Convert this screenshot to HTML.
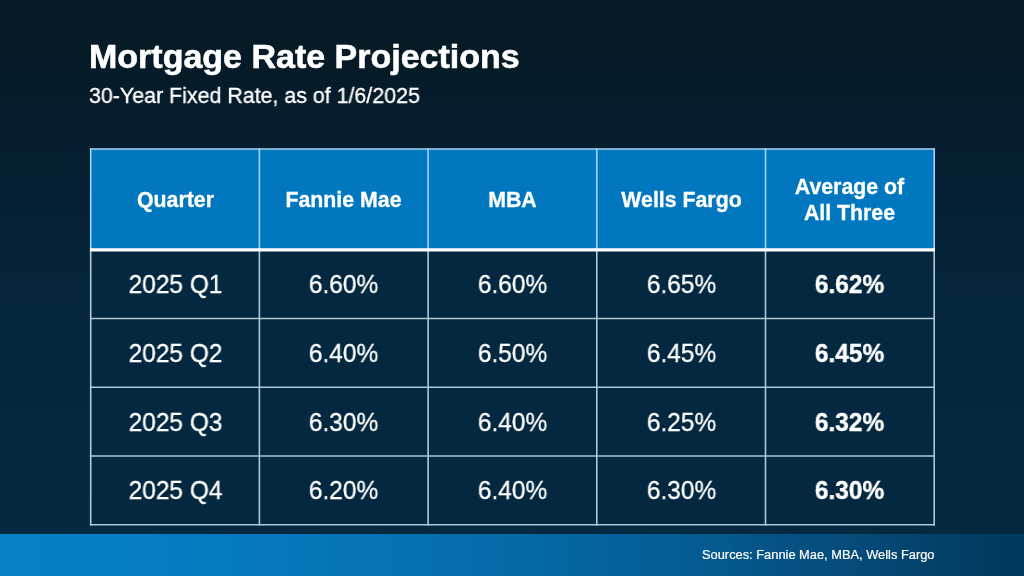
<!DOCTYPE html>
<html><head><meta charset="utf-8">
<style>
html,body{margin:0;padding:0;}
body{width:1024px;height:576px;overflow:hidden;position:relative;font-family:"Liberation Sans",sans-serif;color:#fff;
background:linear-gradient(to bottom,#071a24 0px,#061b27 65px,#061d2f 130px,#052134 205px,#04253a 295px,#04273d 405px,#042941 534px,#042941 576px);}
.title{position:absolute;left:89px;top:36px;font-size:34px;font-weight:bold;white-space:nowrap;line-height:40px;-webkit-text-stroke:0.6px #fff;}
.sub{position:absolute;left:89px;top:83.5px;font-size:22px;white-space:nowrap;line-height:24px;transform:scaleX(0.972);transform-origin:0 50%;-webkit-text-stroke:0.3px #fff;}
.band{position:absolute;left:0;top:534px;width:1024px;height:42px;background:linear-gradient(to right,#0780c8 0px,#077bc0 210px,#0570b0 430px,#05669f 570px,#055d94 680px,#054a78 860px,#023a5e 1000px,#023a5e 1024px);}
.src{position:absolute;left:702px;top:547px;font-size:12.85px;white-space:nowrap;line-height:16px;-webkit-text-stroke:0.2px #fff;}
.hdr{position:absolute;left:90.55px;top:149px;width:843px;height:100px;background:#0077be;}
.body{position:absolute;left:90.55px;top:250px;width:843px;height:275px;background:#03283f;}
.cell{position:absolute;width:169px;text-align:center;white-space:nowrap;}
.h{font-size:21.3px;font-weight:bold;line-height:25.5px;-webkit-text-stroke:0.3px #fff;}
.d{font-size:26.5px;line-height:29px;transform:scaleX(0.925);transform-origin:50% 50%;-webkit-text-stroke:0.3px #fff;}
.b{font-weight:bold;-webkit-text-stroke:0.4px #fff;}
svg{position:absolute;left:0;top:0;}
.cell,.title,.sub,.src{will-change:transform;}
</style></head><body>
<div class="title">Mortgage Rate Projections</div>
<div class="sub">30-Year Fixed Rate, as of 1/6/2025</div>
<div class="hdr"></div>
<div class="body"></div>
<svg width="1024" height="576">
<g stroke="#a6d2f0" stroke-width="1.6" fill="none">
<line x1="90.7" y1="148.2" x2="90.7" y2="249"/>
<line x1="259.4" y1="148.2" x2="259.4" y2="249"/>
<line x1="428.1" y1="148.2" x2="428.1" y2="249"/>
<line x1="596.8" y1="148.2" x2="596.8" y2="249"/>
<line x1="765.5" y1="148.2" x2="765.5" y2="249"/>
<line x1="934.2" y1="148.2" x2="934.2" y2="249"/>
<line x1="89.9" y1="149" x2="935" y2="149"/>
</g>
<g stroke="#b0c8d8" stroke-width="1.6" fill="none">
<line x1="90.7" y1="250" x2="90.7" y2="525.5"/>
<line x1="259.4" y1="250" x2="259.4" y2="525.5"/>
<line x1="428.1" y1="250" x2="428.1" y2="525.5"/>
<line x1="596.8" y1="250" x2="596.8" y2="525.5"/>
<line x1="765.5" y1="250" x2="765.5" y2="525.5"/>
<line x1="934.2" y1="250" x2="934.2" y2="525.5"/>
<line x1="89.9" y1="318.5" x2="935" y2="318.5"/>
<line x1="89.9" y1="387.3" x2="935" y2="387.3"/>
<line x1="89.9" y1="456" x2="935" y2="456"/>
<line x1="89.9" y1="524.7" x2="935" y2="524.7"/>
</g>
<line x1="89.9" y1="249.9" x2="935" y2="249.9" stroke="#ffffff" stroke-width="3.2"/>
</svg>
<div class="cell h" style="left:90.55px;top:188px">Quarter</div>
<div class="cell h" style="left:259.25px;top:188px">Fannie Mae</div>
<div class="cell h" style="left:427.95px;top:188px">MBA</div>
<div class="cell h" style="left:596.65px;top:188px">Wells Fargo</div>
<div class="cell h" style="left:765.35px;top:175px">Average of<br>All Three</div>

<div class="cell d" style="left:90.55px;top:270.30px">2025 Q1</div>
<div class="cell d" style="left:259.25px;top:270.30px">6.60%</div>
<div class="cell d" style="left:427.95px;top:270.30px">6.60%</div>
<div class="cell d" style="left:596.65px;top:270.30px">6.65%</div>
<div class="cell d b" style="left:765.35px;top:270.30px">6.62%</div>

<div class="cell d" style="left:90.55px;top:339.00px">2025 Q2</div>
<div class="cell d" style="left:259.25px;top:339.00px">6.40%</div>
<div class="cell d" style="left:427.95px;top:339.00px">6.50%</div>
<div class="cell d" style="left:596.65px;top:339.00px">6.45%</div>
<div class="cell d b" style="left:765.35px;top:339.00px">6.45%</div>

<div class="cell d" style="left:90.55px;top:407.75px">2025 Q3</div>
<div class="cell d" style="left:259.25px;top:407.75px">6.30%</div>
<div class="cell d" style="left:427.95px;top:407.75px">6.40%</div>
<div class="cell d" style="left:596.65px;top:407.75px">6.25%</div>
<div class="cell d b" style="left:765.35px;top:407.75px">6.32%</div>

<div class="cell d" style="left:90.55px;top:476.45px">2025 Q4</div>
<div class="cell d" style="left:259.25px;top:476.45px">6.20%</div>
<div class="cell d" style="left:427.95px;top:476.45px">6.40%</div>
<div class="cell d" style="left:596.65px;top:476.45px">6.30%</div>
<div class="cell d b" style="left:765.35px;top:476.45px">6.30%</div>

<div class="band"></div>
<div class="src">Sources: Fannie Mae, MBA, Wells Fargo</div>
</body></html>
